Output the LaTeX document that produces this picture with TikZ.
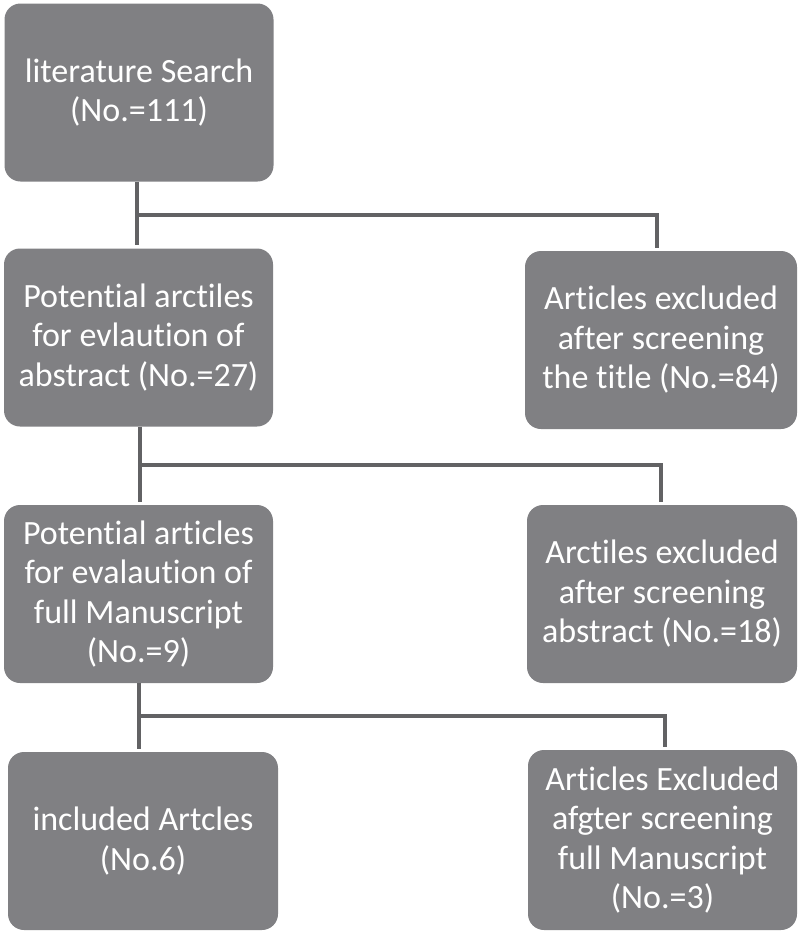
\documentclass[tikz,border=0pt]{standalone}
\usepackage{fontspec}
\setmainfont[RawFeature={-liga;-dlig;-calt;-clig}]{Carlito}
\newcommand{\Ti}{t\kern0pt i}
\definecolor{boxgray}{RGB}{128,128,131}
\definecolor{linegray}{RGB}{98,98,100}
\begin{document}
\begin{tikzpicture}[x=1pt,y=-1pt,
  fbox/.style={draw=none, fill=boxgray, rounded corners=16pt, text=white,
    align=center, inner sep=0pt, minimum width=269pt, minimum height=178pt,
    font=\fontsize{34}{39.5}\selectfont},
  conn/.style={draw=linegray, line width=4pt, shorten >=3pt}]
\useasboundingbox (0,0) rectangle (800,935);
\fill[white] (0,0) rectangle (800,935);
\node[fbox] (b1) at (139,92.5) {literature Search\\(No.=111)};
\node[fbox] (b2) at (138.5,337.5) {Poten\Ti al arc\Ti les\\for evlau\Ti on of\\abstract (No.=27)};
\node[fbox, minimum width=272pt] (b3) at (661,340) {Ar\Ti cles excluded\\after screening\\the \Ti tle (No.=84)};
\node[fbox] (b4) at (138.5,594) {Poten\Ti al ar\Ti cles\\for evalau\Ti on of\\full Manuscript\\(No.=9)};
\node[fbox, minimum width=270pt] (b5) at (662,594) {Arc\Ti les excluded\\after screening\\abstract (No.=18)};
\node[fbox, minimum width=270pt] (b6) at (143,841) {included Artcles\\(No.6)};
\node[fbox, minimum height=180pt] (b7) at (662.5,840) {Ar\Ti cles Excluded\\afgter screening\\full Manuscript\\(No.=3)};
\coordinate (j1) at (137,215);
\coordinate (j2) at (140,465);
\coordinate (j3) at (139,716);
\draw[conn] (b1.south -| j1) -- (b2.north -| j1);
\draw[conn] (j1) -| (657,215) -- (b3.north -| 657,0);
\draw[conn] (b2.south -| j2) -- (b4.north -| j2);
\draw[conn] (j2) -| (661,465) -- (b5.north -| 661,0);
\draw[conn] (b4.south -| j3) -- (b6.north -| j3);
\draw[conn] (j3) -| (665,716) -- (b7.north -| 665,0);
\end{tikzpicture}
\end{document}
